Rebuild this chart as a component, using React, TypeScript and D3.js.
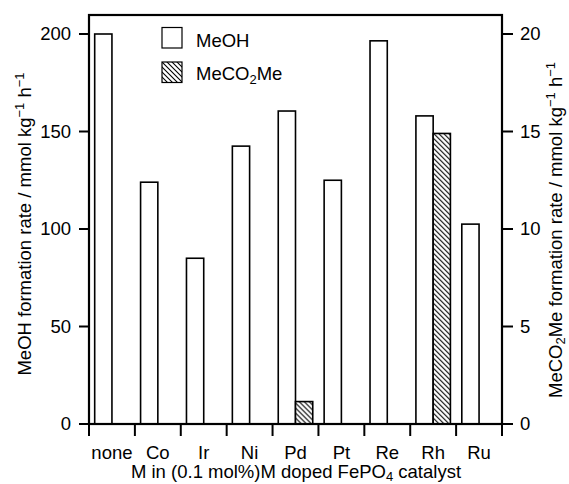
import React from "react";
import * as d3 from "d3";

const metals = ["none", "Co", "Ir", "Ni", "Pd", "Pt", "Re", "Rh", "Ru"];
const meohRate = [200, 124, 85, 142.5, 160.5, 125, 196.5, 158, 102.5];
const mecoRate = [0, 0, 0, 0, 1.15, 0, 0, 14.9, 0];
const leftTicks = [0, 50, 100, 150, 200];
const rightTicks = [0, 5, 10, 15, 20];

const W = 569, H = 484;
const font = "'Liberation Sans', Arial, Helvetica, sans-serif";

export default function App() {
  // plot frame
  const left = 89, right = 502, top = 15, bottom = 424;

  const x0 = d3.scaleBand<string>().domain(metals).range([left, right]).padding(0);
  const x1 = d3.scaleBand<string>()
    .domain(["MeOH", "MeCO2Me"])
    .range([0, x0.bandwidth()])
    .paddingInner(0)
    .paddingOuter(0.33);
  const y = d3.scaleLinear().domain([0, 200]).range([bottom, 34]);
  const yR = d3.scaleLinear().domain([0, 20]).range([bottom, 34]);

  const boundaries = metals.map(m => x0(m)!).concat([right]);
  const sub = 13;

  return (
    <svg width={W} height={H} style={{ position: "absolute", left: 0, top: 0, background: "#fff" }}
      fontFamily={font} fontSize={18.5}>
      <defs>
        <pattern id="hatch" patternUnits="userSpaceOnUse" width={5} height={5}>
          <rect width={5} height={5} fill="#fff" />
          <path d="M0,0 L5,5 M-1,4 L1,6 M4,-1 L6,1" stroke="#000" strokeWidth={1.1} />
        </pattern>
      </defs>

      {/* bars */}
      {metals.map((m, i) => (
        <g key={m} transform={`translate(${x0(m)},0)`}>
          <rect x={x1("MeOH")} y={y(meohRate[i])} width={x1.bandwidth()}
            height={y(0) - y(meohRate[i])} fill="#fff" stroke="#000" strokeWidth={1.6} />
          {mecoRate[i] > 0 && (
            <rect x={x1("MeCO2Me")} y={yR(mecoRate[i])} width={x1.bandwidth()}
              height={yR(0) - yR(mecoRate[i])} fill="url(#hatch)" stroke="#000" strokeWidth={1.6} />
          )}
        </g>
      ))}

      {/* frame */}
      <rect x={left} y={top} width={right - left} height={bottom - top} fill="none" stroke="#000" strokeWidth={2.2} />

      {/* left axis */}
      {leftTicks.map(t => (
        <g key={"l" + t}>
          <line x1={left - 10} x2={left} y1={y(t)} y2={y(t)} stroke="#000" strokeWidth={2} />
          <text x={left - 18} y={y(t)} dy="0.35em" textAnchor="end">{t}</text>
        </g>
      ))}
      {/* right axis */}
      {rightTicks.map(t => (
        <g key={"r" + t}>
          <line x1={right} x2={right + 11} y1={yR(t)} y2={yR(t)} stroke="#000" strokeWidth={2} />
          <text x={right + 18} y={yR(t)} dy="0.35em" textAnchor="start">{t}</text>
        </g>
      ))}
      {/* bottom axis */}
      {boundaries.map((b, i) => (
        <line key={"b" + i} x1={b} x2={b} y1={bottom} y2={bottom + 12} stroke="#000" strokeWidth={2} />
      ))}
      {metals.map(m => (
        <text key={"t" + m} x={x0(m)! + x0.bandwidth() / 2} y={458.5} textAnchor="middle">{m}</text>
      ))}

      {/* axis titles */}
      <text x={296} y={478} textAnchor="middle">
        M in (0.1 mol%)M doped FePO<tspan fontSize={sub} dy={3}>4</tspan><tspan dy={-3}> catalyst</tspan>
      </text>
      <text transform="translate(31,224) rotate(-90)" textAnchor="middle">
        MeOH formation rate / mmol kg<tspan fontSize={sub} dy={-7}>−1</tspan>
        <tspan dy={7}> h</tspan><tspan fontSize={sub} dy={-7}>−1</tspan>
      </text>
      <text transform="translate(562,230) rotate(-90)" textAnchor="middle">
        MeCO<tspan fontSize={sub} dy={3}>2</tspan><tspan dy={-3}>Me formation rate / mmol kg</tspan>
        <tspan fontSize={sub} dy={-7}>−1</tspan>
        <tspan dy={7}> h</tspan><tspan fontSize={sub} dy={-7}>−1</tspan>
      </text>

      {/* legend */}
      <rect x={162} y={27.5} width={20} height={20.5} fill="#fff" stroke="#000" strokeWidth={1.2} />
      <text x={196} y={46.5}>MeOH</text>
      <rect x={162} y={62} width={20} height={20.5} fill="url(#hatch)" stroke="#000" strokeWidth={1.2} />
      <text x={196} y={79.5}>MeCO<tspan fontSize={sub} dy={4}>2</tspan><tspan dy={-4}>Me</tspan></text>
    </svg>
  );
}
